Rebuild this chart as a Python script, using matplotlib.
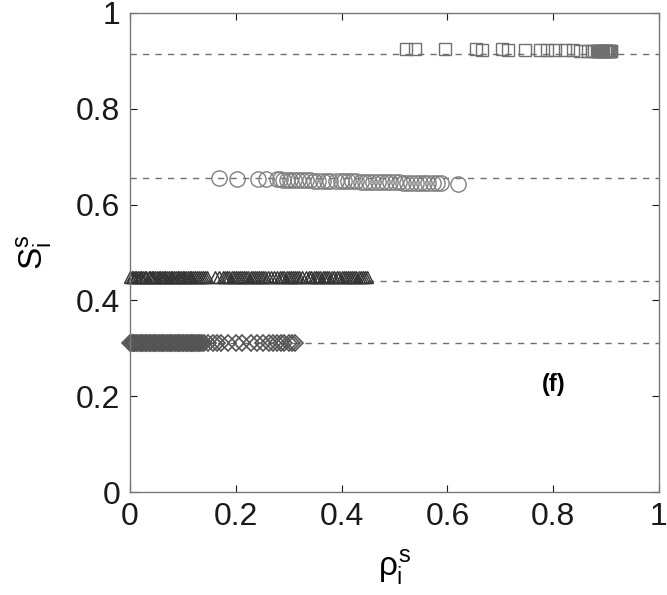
import numpy as np
import matplotlib
matplotlib.use("Agg")
import matplotlib.pyplot as plt

plt.rcParams['font.family'] = ['Liberation Sans', 'DejaVu Sans']
plt.rcParams['mathtext.fontset'] = 'custom'
plt.rcParams['mathtext.rm'] = 'Liberation Sans'
plt.rcParams['mathtext.it'] = 'Liberation Sans'

# plateau levels (dashed lines)
levels = [0.914, 0.655, 0.440, 0.311]

# squares
sq_x = [0.521, 0.539, 0.595, 0.655, 0.665, 0.703, 0.715, 0.747, 0.775, 0.788,
        0.803, 0.822, 0.838, 0.851, 0.866, 0.873, 0.878, 0.882, 0.885, 0.887,
        0.889, 0.891, 0.893, 0.895, 0.897, 0.899, 0.901, 0.903, 0.905, 0.907,
        0.909, 0.910]
sq_y = [0.925, 0.924, 0.925, 0.924, 0.923, 0.924, 0.923, 0.923, 0.923, 0.922,
        0.922, 0.922, 0.922, 0.921, 0.921, 0.921, 0.921, 0.921, 0.921, 0.921,
        0.921, 0.921, 0.921, 0.921, 0.921, 0.921, 0.921, 0.921, 0.921, 0.921,
        0.921, 0.921]

# circles
ci_x = [0.168, 0.202, 0.242, 0.258, 0.277, 0.284, 0.290, 0.297, 0.303, 0.310,
        0.318, 0.325, 0.333, 0.340, 0.348, 0.356, 0.364, 0.372, 0.378, 0.390,
        0.398, 0.405, 0.412, 0.420, 0.428, 0.436, 0.444, 0.452, 0.460, 0.468,
        0.476, 0.484, 0.492, 0.500, 0.508, 0.516, 0.524, 0.532, 0.540, 0.548,
        0.556, 0.564, 0.572, 0.580, 0.588, 0.620]
ci_y = [0.656, 0.654, 0.654, 0.653, 0.653, 0.653, 0.652, 0.652, 0.652, 0.652,
        0.651, 0.651, 0.651, 0.651, 0.650, 0.650, 0.650, 0.650, 0.650, 0.650,
        0.649, 0.649, 0.649, 0.649, 0.649, 0.648, 0.648, 0.648, 0.648, 0.648,
        0.647, 0.647, 0.647, 0.647, 0.647, 0.646, 0.646, 0.646, 0.646, 0.646,
        0.646, 0.645, 0.645, 0.645, 0.645, 0.643]

# triangles
tr_x = [0.000, 0.003, 0.006, 0.009, 0.012, 0.015, 0.018, 0.021, 0.025, 0.028,
        0.031, 0.035, 0.038, 0.041, 0.044, 0.048, 0.051, 0.054, 0.057, 0.061,
        0.064, 0.067, 0.070, 0.074, 0.077, 0.080, 0.083, 0.087, 0.090, 0.093,
        0.096, 0.100, 0.103, 0.106, 0.110, 0.113, 0.116, 0.120, 0.123, 0.127,
        0.130, 0.134, 0.138, 0.142, 0.146, 0.160, 0.168, 0.175, 0.180, 0.184,
        0.188, 0.192, 0.196, 0.200, 0.204, 0.208, 0.212, 0.216, 0.220, 0.224,
        0.228, 0.232, 0.236, 0.240, 0.244, 0.248, 0.252, 0.256, 0.260, 0.266,
        0.272, 0.278, 0.283, 0.288, 0.292, 0.296, 0.300, 0.304, 0.308, 0.312,
        0.316, 0.320, 0.326, 0.332, 0.338, 0.343, 0.348, 0.352, 0.356, 0.360,
        0.364, 0.368, 0.372, 0.376, 0.381, 0.386, 0.391, 0.396, 0.400, 0.404,
        0.408, 0.412, 0.416, 0.420, 0.424, 0.428, 0.432, 0.436, 0.440, 0.444,
        0.448]
tr_y = 0.449

# diamonds
di_x = [0.000, 0.003, 0.005, 0.008, 0.010, 0.013, 0.015, 0.018, 0.020, 0.023,
        0.025, 0.028, 0.030, 0.033, 0.035, 0.038, 0.040, 0.043, 0.045, 0.048,
        0.050, 0.053, 0.055, 0.058, 0.060, 0.063, 0.065, 0.068, 0.070, 0.073,
        0.075, 0.078, 0.080, 0.083, 0.085, 0.088, 0.090, 0.093, 0.095, 0.098,
        0.100, 0.103, 0.105, 0.108, 0.110, 0.113, 0.115, 0.118, 0.120, 0.123,
        0.125, 0.128, 0.130, 0.133, 0.136, 0.140, 0.148, 0.156, 0.165, 0.172,
        0.185, 0.200, 0.212, 0.228, 0.240, 0.252, 0.262, 0.270, 0.278, 0.285,
        0.292, 0.300, 0.306, 0.312]
di_y = 0.311

ticks = [0, 0.2, 0.4, 0.6, 0.8, 1]
tick_labels = ["0", "0.2", "0.4", "0.6", "0.8", "1"]

fig = plt.figure(figsize=(6.67, 5.95), dpi=100)
ax = fig.add_axes([130 / 667, 1 - 492 / 595, 529 / 667, 479 / 595])

for lv in levels:
    ax.axhline(lv, color="#707070", lw=1.0, ls=(0, (4.5, 4.5)), zorder=1)

ax.plot(sq_x, sq_y, ls="none", marker="s", ms=8, mfc="none", mec="#707070", mew=1.0, clip_on=False)
ax.plot(ci_x, ci_y, ls="none", marker="o", ms=11, mfc="none", mec="#808080", mew=1.0, clip_on=False)
ax.plot(tr_x, [tr_y] * len(tr_x), ls="none", marker="^", ms=8, mfc="none", mec="#333333", mew=1.0, clip_on=False)
ax.plot(di_x, [di_y] * len(di_x), ls="none", marker="D", ms=8, mfc="none", mec="#555555", mew=1.2, clip_on=False)

ax.set_xlim(0, 1)
ax.set_ylim(0, 1)
ax.set_xticks(ticks)
ax.set_xticklabels(tick_labels)
ax.set_yticks(ticks)
ax.set_yticklabels(tick_labels)
ax.tick_params(direction="in", length=5, width=0.8, labelsize=23, colors="#1a1a1a",
               top=True, right=True, pad=7)
for sp in ax.spines.values():
    sp.set_color("#777777")
    sp.set_linewidth(1.0)

ax.set_xlabel(r"$\rho_{\mathrm{i}}^{\mathrm{s}}$", fontsize=24, labelpad=12)
ax.set_ylabel(r"$\mathrm{S}_{\mathrm{i}}^{\mathrm{s}}$", fontsize=24, labelpad=16)

ax.text(0.80, 0.225, "(f)", fontsize=17, fontweight="bold", ha="center", va="center")

fig.savefig("out.png", dpi=100)
